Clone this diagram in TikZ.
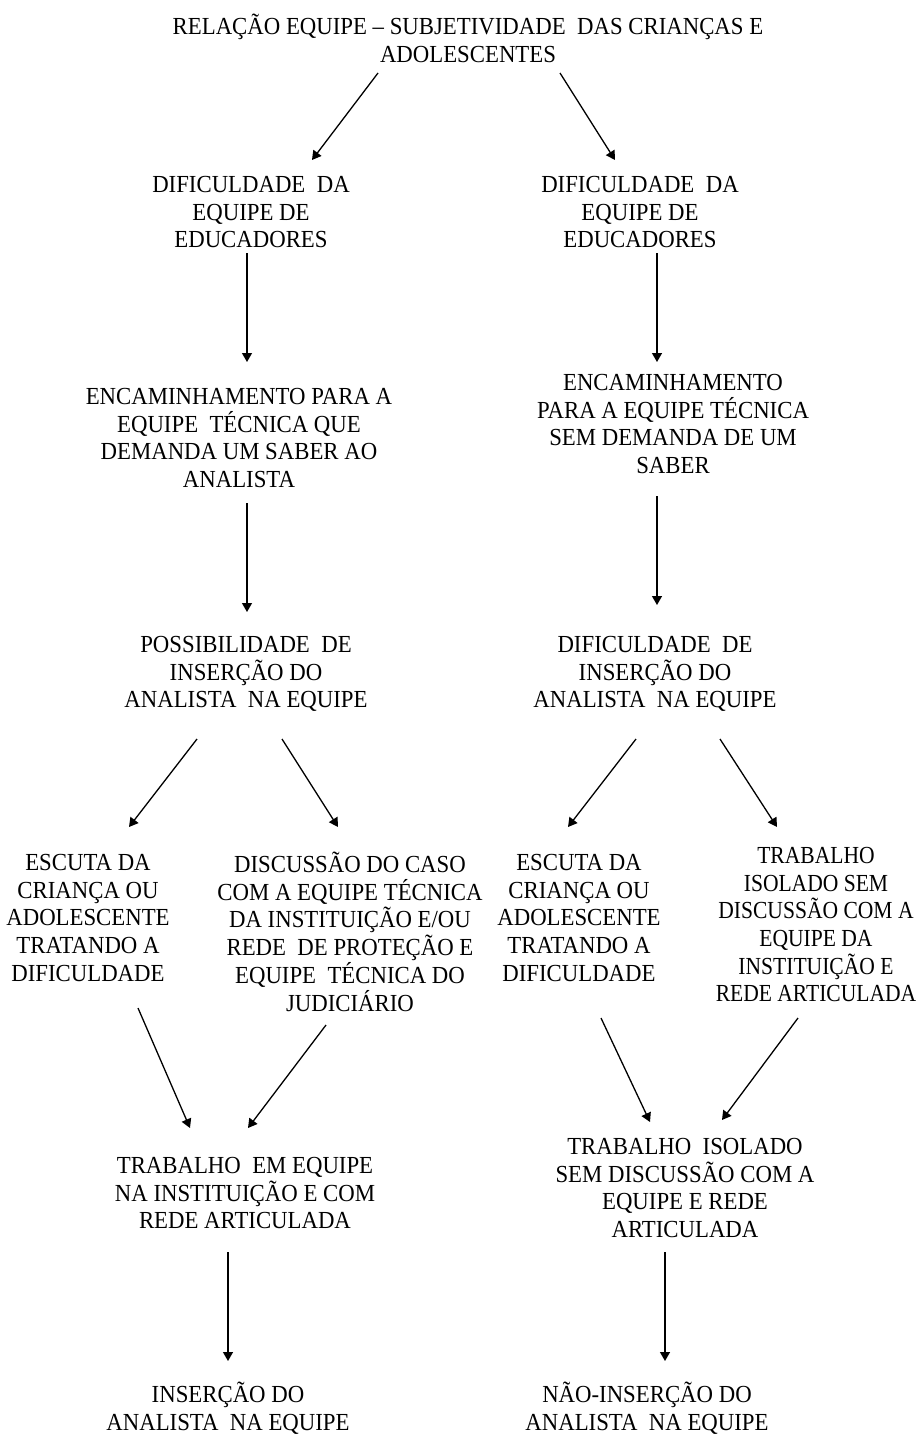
\documentclass[tikz,border=0pt]{standalone}
\usepackage{fontspec}
\setmainfont[FakeStretch=0.93]{Liberation Serif}
\newfontfamily\narrowserif[FakeStretch=0.88]{Liberation Serif}
\usetikzlibrary{arrows.meta}
\begin{document}
\begin{tikzpicture}[x=1pt,y=-1pt,
  lbl/.style={align=center, inner sep=0pt, text=black,
    font=\fontsize{24.5}{27.7}\selectfont,
    execute at begin node=\strut, execute at end node=\strut},
  narrowlbl/.style={lbl, font=\narrowserif\fontsize{24.5}{27.7}\selectfont},
  arr/.style={line width=1.3pt, draw=black, -{Triangle[length=9pt,width=10pt]}}]
\useasboundingbox (0,0) rectangle (918,1435);
% nodes
\node[lbl] (t)  at (468,42.3)   {RELAÇÃO EQUIPE – SUBJETIVIDADE\ \ DAS CRIANÇAS E\\ADOLESCENTES};
\node[lbl] (d1) at (251,216.1)  {DIFICULDADE\ \ DA\\EQUIPE DE\\EDUCADORES};
\node[lbl] (d2) at (640,216.1)  {DIFICULDADE\ \ DA\\EQUIPE DE\\EDUCADORES};
\node[lbl] (e1) at (239,442.0)  {ENCAMINHAMENTO PARA A\\EQUIPE\ \ TÉCNICA QUE\\DEMANDA UM SABER AO\\ANALISTA};
\node[lbl] (e2) at (673,428.0)  {ENCAMINHAMENTO\\PARA A EQUIPE TÉCNICA\\SEM DEMANDA DE UM\\SABER};
\node[lbl] (p1) at (246,676.1)  {POSSIBILIDADE\ \ DE\\INSERÇÃO DO\\ANALISTA\ \ NA EQUIPE};
\node[lbl] (p2) at (655,676.1)  {DIFICULDADE\ \ DE\\INSERÇÃO DO\\ANALISTA\ \ NA EQUIPE};
\node[lbl] (s1) at (88,921.8)   {ESCUTA DA\\CRIANÇA OU\\ADOLESCENTE\\TRATANDO A\\DIFICULDADE};
\node[lbl] (c1) at (350,935.7)  {DISCUSSÃO DO CASO\\COM A EQUIPE TÉCNICA\\DA INSTITUIÇÃO E/OU\\REDE\ \ DE PROTEÇÃO E\\EQUIPE\ \ TÉCNICA DO\\JUDICIÁRIO};
\node[lbl] (s2) at (579,921.8)  {ESCUTA DA\\CRIANÇA OU\\ADOLESCENTE\\TRATANDO A\\DIFICULDADE};
\node[narrowlbl] (i1) at (816,928.7)  {TRABALHO\\ISOLADO SEM\\DISCUSSÃO COM A\\EQUIPE DA\\INSTITUIÇÃO E\\REDE ARTICULADA};
\node[lbl] (w1) at (245,1197.1) {TRABALHO\ \ EM EQUIPE\\NA INSTITUIÇÃO E COM\\REDE ARTICULADA};
\node[lbl] (w2) at (685,1192.0) {TRABALHO\ \ ISOLADO\\SEM DISCUSSÃO COM A\\EQUIPE E REDE\\ARTICULADA};
\node[lbl] (n1) at (228,1410.3) {INSERÇÃO DO\\ANALISTA\ \ NA EQUIPE};
\node[lbl] (n2) at (647,1410.3) {NÃO-INSERÇÃO DO\\ANALISTA\ \ NA EQUIPE};
% connectors
\draw[arr] ([shift={(-90,30.7)}]t.center)  -- ([shift={(61,-56.1)}]d1.center);
\draw[arr] ([shift={(92,30.7)}]t.center)   -- ([shift={(-25,-56.1)}]d2.center);
\draw[arr] ([shift={(-4,36.9)}]d1.center)  -- ([shift={(8,-80.0)}]e1.center);
\draw[arr] ([shift={(17,36.9)}]d2.center)  -- ([shift={(-16,-66.0)}]e2.center);
\draw[arr] ([shift={(8,61.0)}]e1.center)   -- ([shift={(1,-64.1)}]p1.center);
\draw[arr] ([shift={(-16,68.0)}]e2.center) -- ([shift={(2,-71.1)}]p2.center);
\draw[arr] ([shift={(-49,62.9)}]p1.center) -- ([shift={(41,-94.8)}]s1.center);
\draw[arr] ([shift={(36,62.9)}]p1.center)  -- ([shift={(-12,-108.7)}]c1.center);
\draw[arr] ([shift={(-19,62.9)}]p2.center) -- ([shift={(-11,-94.8)}]s2.center);
\draw[arr] ([shift={(65,62.9)}]p2.center)  -- ([shift={(-39,-101.7)}]i1.center);
\draw[arr] ([shift={(50,86.2)}]s1.center)  -- ([shift={(-55,-69.1)}]w1.center);
\draw[arr] ([shift={(-24,89.3)}]c1.center) -- ([shift={(3,-69.1)}]w1.center);
\draw[arr] ([shift={(22,96.2)}]s2.center)  -- ([shift={(-35,-70.0)}]w2.center);
\draw[arr] ([shift={(-18,89.3)}]i1.center) -- ([shift={(37,-72.0)}]w2.center);
\draw[arr] ([shift={(-17,54.9)}]w1.center) -- ([shift={(0,-49.3)}]n1.center);
\draw[arr] ([shift={(-20,60.0)}]w2.center) -- ([shift={(18,-49.3)}]n2.center);
\end{tikzpicture}
\end{document}
